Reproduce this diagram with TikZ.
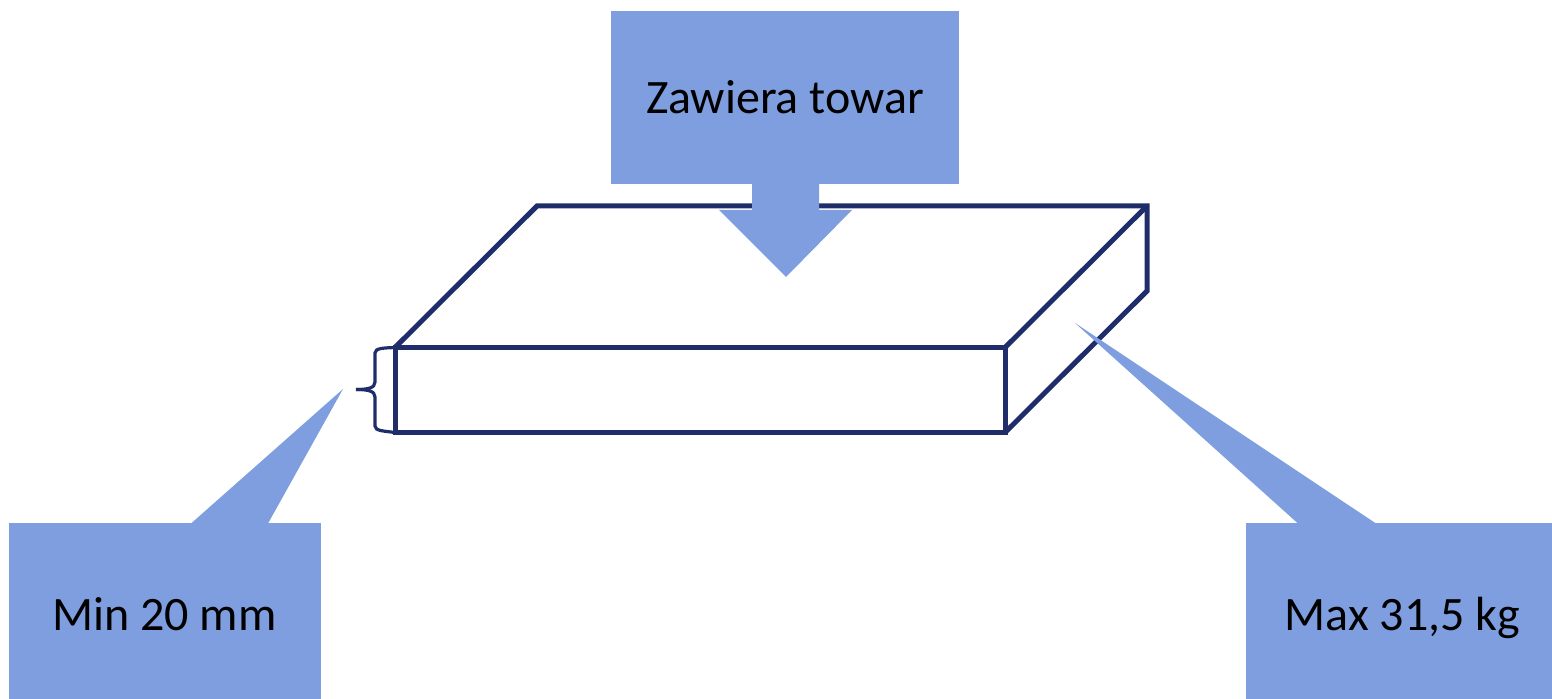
\documentclass[tikz,border=0pt]{standalone}
\usepackage{fontspec}
\setmainfont{Carlito}
\usepackage{xcolor}
\usetikzlibrary{positioning}
\definecolor{boxblue}{HTML}{1F2E6B}
\definecolor{noteblue}{HTML}{7F9EDF}
\tikzset{
  edge/.style={boxblue, line width=2.5pt, line join=miter},
  bracket/.style={boxblue, line width=1.6pt},
  note/.style={fill=noteblue, inner sep=0pt, anchor=north west},
  notetext/.style={font=\fontsize{24}{28}\selectfont, text=black, anchor=base},
  pointer/.style={fill=noteblue, draw=none}
}
\begin{document}
\begin{tikzpicture}[x=0.5pt, y=-0.5pt]
  \useasboundingbox (0,0) rectangle (1552,699);
  % Package
  \coordinate (fl) at (395,347.5);
  \coordinate (fr) at (1005,347.5);
  \coordinate (bl) at (395,432.5);
  \coordinate (br) at (1005,432.5);
  \coordinate (tl) at (537,206);
  \coordinate (tr) at (1147,206);
  \coordinate (sr) at (1147,291);
  \draw[edge] (fr) -- (tr);
  \draw[edge] (fl) -- (fr) -- (br) -- (bl) -- cycle;
  \draw[edge] (fl) -- (tl) -- (tr) -- (sr) -- (br);
  % Brace
  \coordinate (bracetip) at (356,389.5);
  \draw[bracket] (fl) .. controls (384,348) and (375,348) .. (375,353) -- (375,382)
    .. controls (375,388) and (368,389.5) .. (bracetip);
  \draw[bracket] (bl) .. controls (384,431) and (375,431) .. (375,426) -- (375,397)
    .. controls (375,391) and (368,389.5) .. (bracetip);
  % Notes
  \node[note, minimum width=174pt, minimum height=86.5pt] (content) at (611,11) {};
  \node[note, minimum width=156pt, minimum height=88pt] (height) at (9,523) {};
  \node[note, minimum width=153pt, minimum height=88pt] (weight) at (1246,523) {};
  \node[notetext] (contentlabel) at (785,114) {Zawiera towar};
  \node[notetext] (heightlabel) at (164.5,630) {Min 20 mm};
  \node[notetext] (weightlabel) at (1402.5,630) {Max 31,5 kg};
  % Pointers
  \fill[pointer] (752,184) -- (752,210) -- (719,210) -- (786,277) -- (852,210) -- (819,210) -- (819,184) -- cycle;
  \fill[pointer] (191,523.5) -- (343,389) -- (268,523.5) -- cycle;
  \fill[pointer] (1298,523.5) -- (1075,323) -- (1376,523.5) -- cycle;
\end{tikzpicture}
\end{document}
